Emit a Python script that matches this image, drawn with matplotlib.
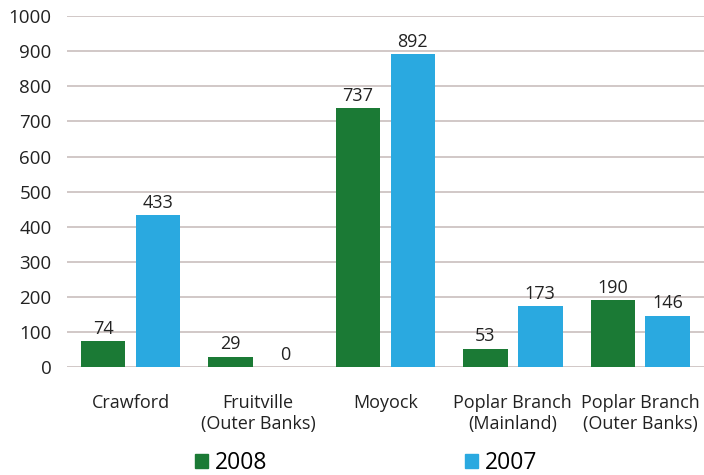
import matplotlib.pyplot as plt
import numpy as np
from matplotlib.patches import Patch

plt.rcParams['font.family'] = ['Open Sans', 'DejaVu Sans']

sites = ["Crawford", "Fruitville\n(Outer Banks)", "Moyock",
         "Poplar Branch\n(Mainland)", "Poplar Branch\n(Outer Banks)"]
y2008 = [74, 29, 737, 53, 190]
y2007 = [433, 0, 892, 173, 146]
green = "#1b7a35"
blue = "#2aa9e0"

fig = plt.figure(figsize=(7.04, 4.75), dpi=100)
ax = fig.add_axes([0.095, 0.227, 0.905, 0.739])

x = np.arange(len(sites))
w = 0.35
b1 = ax.bar(x - 0.215, y2008, w, color=green, zorder=3)
b2 = ax.bar(x + 0.215, y2007, w, color=blue, zorder=3)
for bars, vals in ((b1, y2008), (b2, y2007)):
    for r, v in zip(bars, vals):
        ax.text(r.get_x() + r.get_width() / 2, v + 10, str(v),
                ha="center", va="bottom", fontsize=13, color="#222222")

ax.set_xlim(-0.5, len(sites) - 0.5)
ax.set_ylim(0, 1000)
ax.set_yticks(range(0, 1001, 100))
ax.set_xticks(x)
ax.set_xticklabels(sites, fontsize=13, color="#222222", linespacing=1.25)
ax.tick_params(axis="y", labelsize=13.5, labelcolor="#222222", length=0, pad=11)
ax.tick_params(axis="x", length=0, pad=19)
ax.grid(axis="y", color="#c9bfbd", linewidth=1.2, zorder=0)
for s in ax.spines.values():
    s.set_visible(False)

handles = [Patch(color=green), Patch(color=blue)]
fig.legend(handles, ["2008", "2007"], loc="center", bbox_to_anchor=(0.52, 0.025),
           ncol=2, frameon=False, fontsize=16.5, handlelength=0.6, handleheight=0.6,
           handletextpad=0.3, columnspacing=8.6)

fig.savefig("out.png", dpi=100)
